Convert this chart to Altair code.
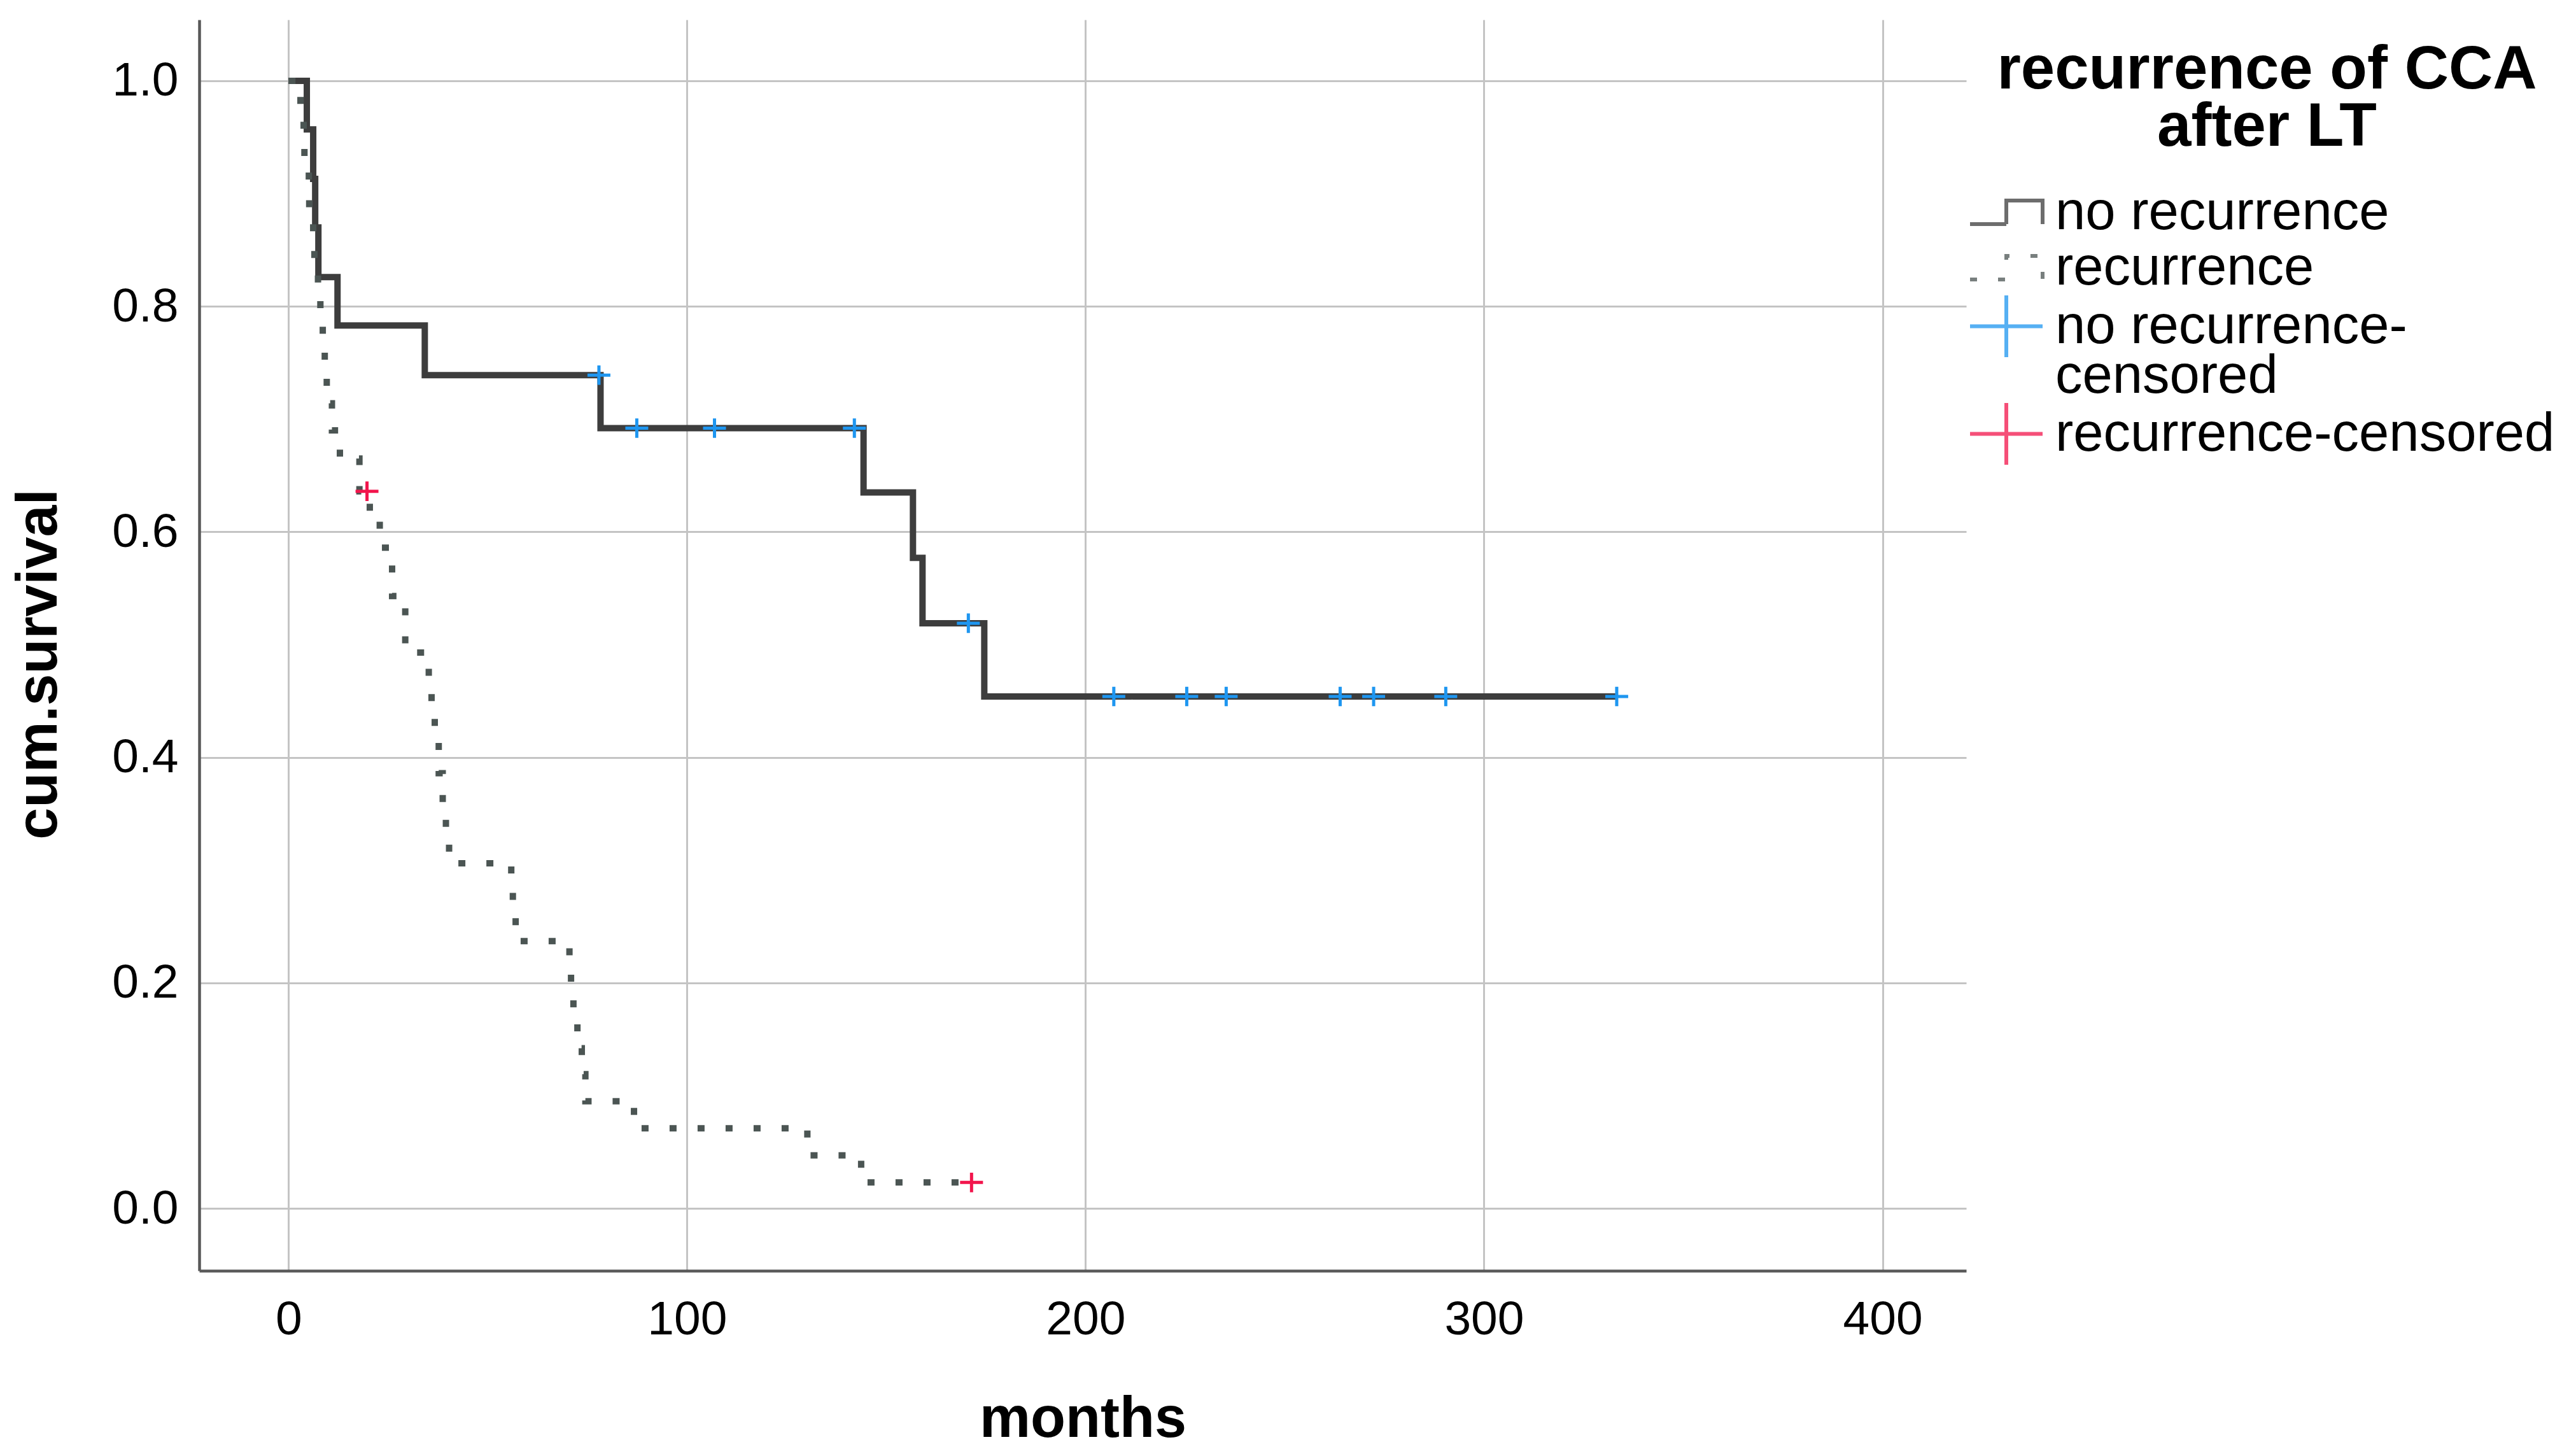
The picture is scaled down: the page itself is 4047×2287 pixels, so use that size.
import altair as alt
import pandas as pd

# ---------------- data ----------------
series_names = ["no recurrence", "recurrence", "no recurrence-censored", "recurrence-censored"]

# Kaplan-Meier step points (time of each drop, survival after the drop)
no_rec_time = [0, 4.6, 6.2, 6.7, 7.5, 12.3, 34.2, 78.3, 144.3, 156.7, 159.1, 174.6, 333.3]
no_rec_surv = [1.0, 0.957, 0.913, 0.870, 0.826, 0.783, 0.739, 0.692, 0.635, 0.577, 0.519, 0.454, 0.454]

rec_time = [0, 3.0, 3.8, 4.0, 5.1, 5.2, 6.2, 6.5, 7.4, 8.0,
            8.6, 9.1, 9.6, 10.9, 12.9, 17.8, 20.4, 22.9, 26.0, 29.3,
            35.2, 35.9, 36.7, 37.7, 38.7, 39.5, 40.3, 55.9, 56.3, 57.0,
            70.5, 70.9, 71.5, 72.5, 73.6, 74.5, 86.7, 130.2, 143.7, 171.4]
rec_surv = [1.0, 0.976, 0.952, 0.929, 0.905, 0.881, 0.857, 0.833, 0.810, 0.786,
            0.762, 0.738, 0.714, 0.690, 0.665, 0.636, 0.611, 0.586, 0.543, 0.493,
            0.466, 0.440, 0.413, 0.386, 0.360, 0.333, 0.306, 0.283, 0.260, 0.237,
            0.213, 0.190, 0.166, 0.142, 0.119, 0.095, 0.071, 0.047, 0.023, 0.023]

# censored observations
no_rec_cens_time = [77.9, 87.4, 106.9, 142.0, 170.6, 207.1, 225.4, 235.3, 263.9, 272.3, 290.4, 333.3]
no_rec_cens_surv = [0.739, 0.692, 0.692, 0.692, 0.519, 0.454, 0.454, 0.454, 0.454, 0.454, 0.454, 0.454]
rec_cens_time = [19.7, 171.4]
rec_cens_surv = [0.636, 0.023]

x_ticks = [0, 100, 200, 300, 400]
y_ticks = [0.0, 0.2, 0.4, 0.6, 0.8, 1.0]

# ---------------- tables ----------------
lines = pd.DataFrame({
    "months": no_rec_time + rec_time,
    "surv": no_rec_surv + rec_surv,
    "series": [series_names[0]] * len(no_rec_time) + [series_names[1]] * len(rec_time),
})
cens = pd.DataFrame({
    "months": no_rec_cens_time + rec_cens_time,
    "surv": no_rec_cens_surv + rec_cens_surv,
    "series": [series_names[2]] * len(no_rec_cens_time) + [series_names[3]] * len(rec_cens_time),
})

# ---------------- styling ----------------
FONT = "Liberation Sans"
colors = ["#3d3d3d", "#4b5553", "#1e96f0", "#f2154c"]
# legend glyphs (step outline; the leading move-to only enlarges the row box)
step_path_a = "M0,1.14M-2,0.65H0V-0.65H2V0.65"
step_path_b = "M0,1.14M-2,0.65H0V-0.65H2V0.65"
cross_path = "M-2,0H2M0,-1.7V1.7"
legend_title = ["recurrence of CCA", "after LT"]

color_scale = alt.Scale(domain=series_names, range=colors)
dash_scale = alt.Scale(domain=series_names, range=[[1, 0], [11, 33], [1, 0], [1, 0]])
shape_scale = alt.Scale(domain=series_names,
                        range=[step_path_a, step_path_b, cross_path, cross_path])

label_expr = ("datum.label == 'no recurrence-censored' ? "
              "['no recurrence-', 'censored'] : datum.label")

x_enc = alt.X("months:Q",
              scale=alt.Scale(domain=[-22.4, 421.0], nice=False, zero=False),
              axis=alt.Axis(values=x_ticks, title="months", labelPadding=40,
                            titlePadding=75))
y_enc = alt.Y("surv:Q",
              scale=alt.Scale(domain=[-0.0553, 1.0542], nice=False, zero=False),
              axis=alt.Axis(values=y_ticks, format=".1f", title="cum.survival",
                            labelPadding=33, titlePadding=68, titleY=1012))

leg = alt.Legend(title=legend_title, labelExpr=label_expr)

line_layer = alt.Chart(lines).mark_line(
    interpolate="step-after", strokeWidth=10, strokeCap="butt", strokeJoin="miter"
).encode(
    x=x_enc, y=y_enc,
    color=alt.Color("series:N", scale=color_scale, legend=leg),
    strokeDash=alt.StrokeDash("series:N", scale=dash_scale, legend=leg),
)

point_layer = alt.Chart(cens).mark_point(
    filled=False, size=324, strokeWidth=5, opacity=1
).encode(
    x=x_enc, y=y_enc,
    color=alt.Color("series:N", scale=color_scale, legend=leg),
    shape=alt.Shape("series:N", scale=shape_scale, legend=leg),
)

chart = alt.layer(line_layer, point_layer).properties(
    width=2776, height=1965,
    autosize=alt.AutoSizeParams(type="none"),
    padding={"left": 305, "top": 23, "right": 948, "bottom": 280},
    background="white",
).configure(
    style={"guide-label": {"lineHeight": 78}}
).configure_view(
    stroke=None
).configure_axis(
    labelFont=FONT, labelFontSize=75, labelColor="black",
    titleFont=FONT, titleFontSize=90, titleFontWeight="bold", titleColor="black",
    grid=True, gridColor="#c4c4c4", gridWidth=3,
    domainColor="#585858", domainWidth=4.5,
    ticks=False, tickSize=0,
).configure_legend(
    orient="none", legendX=2796.5, legendY=32, padding=0,
    symbolSize=3249, symbolStrokeWidth=6, symbolOpacity=0.75,
    labelOffset=34.5, labelFont=FONT, labelFontSize=85, labelColor="black",
    labelLimit=0,
    titleFont=FONT, titleFontSize=96, titleFontWeight="bold", titleColor="black",
    titleLineHeight=90, titleAlign="center", titleAnchor="middle",
    titlePadding=42, rowPadding=-13, titleLimit=0,
)

chart.save("out.html", embed_options={"renderer": "svg", "actions": False})
